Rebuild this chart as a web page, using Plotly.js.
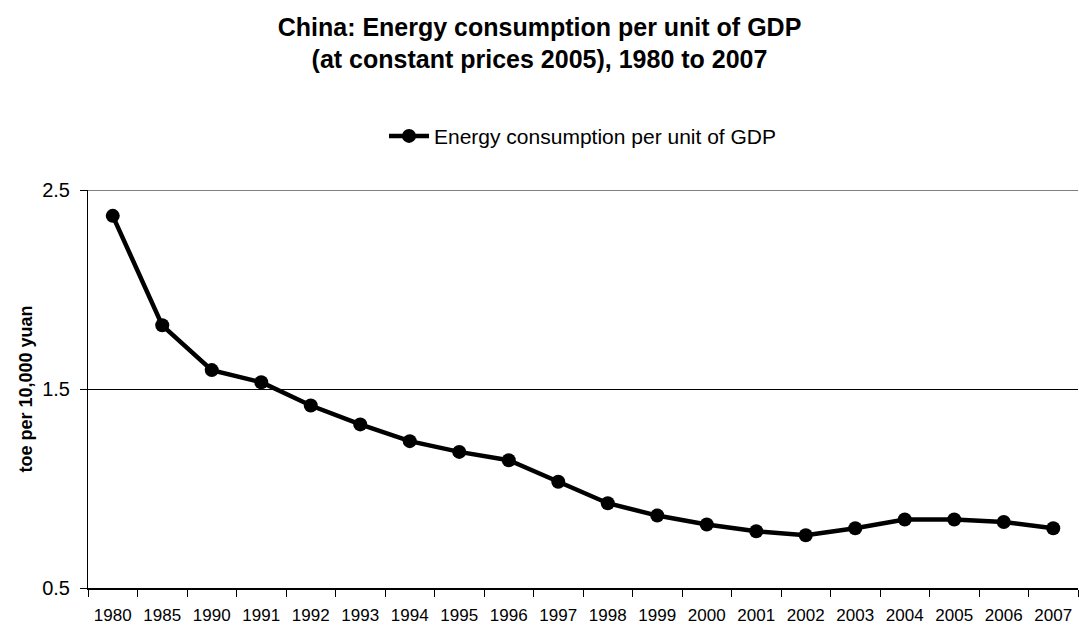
<!DOCTYPE html>
<html>
<head>
<meta charset="utf-8">
<script src="https://cdn.plot.ly/plotly-3.0.1.min.js"></script>
<style>
  html, body { margin: 0; padding: 0; background: #fff; }
  #chart { width: 1079px; height: 628px; }
</style>
</head>
<body>
<div id="chart"></div>
<script>
// Years shown on the category axis
const years = ['1980', '1985', '1990', '1991', '1992', '1993', '1994', '1995', '1996', '1997',
               '1998', '1999', '2000', '2001', '2002', '2003', '2004', '2005', '2006', '2007'];

// Energy consumption per unit of GDP, toe per 10,000 yuan (constant 2005 prices)
const energyPerGdp = [2.37, 1.82, 1.595, 1.534, 1.417, 1.322, 1.238, 1.184, 1.142, 1.034,
                      0.926, 0.864, 0.819, 0.785, 0.765, 0.80, 0.844, 0.844, 0.832, 0.80];

const yTicks = [0.5, 1.5, 2.5];

const font = 'Liberation Sans, Arial, sans-serif';

const trace = {
  type: 'scatter',
  mode: 'lines+markers',
  name: 'Energy consumption per unit of GDP',
  x: years,
  y: energyPerGdp,
  line: { color: '#000', width: 4.5 },
  marker: { color: '#000', size: 14 },
  cliponaxis: false
};

const layout = {
  width: 1079,
  height: 628,
  paper_bgcolor: '#fff',
  plot_bgcolor: '#fff',
  margin: { l: 88, r: 1, t: 190, b: 40 },
  font: { family: font, color: '#000' },
  title: {
    text: '<b>China: Energy consumption per unit of GDP<br>(at constant prices 2005), 1980 to 2007</b>',
    font: { family: font, size: 25, color: '#000' },
    x: 0.5,
    xanchor: 'center',
    xref: 'container',
    yref: 'container',
    y: 0.943,
    yanchor: 'middle'
  },
  showlegend: true,
  legend: {
    orientation: 'h',
    x: 0.5,
    xanchor: 'center',
    y: 1.135,
    yanchor: 'middle',
    font: { family: font, size: 21, color: '#000' },
    itemwidth: 40
  },
  // top grid line at the upper end of the value range
  shapes: [{
    type: 'line',
    xref: 'paper', x0: 0, x1: 1,
    yref: 'y', y0: yTicks[yTicks.length - 1], y1: yTicks[yTicks.length - 1],
    line: { color: '#000', width: 1 },
    layer: 'below'
  }],
  xaxis: {
    type: 'category',
    range: [-0.5, 19.5],
    tickson: 'boundaries',
    ticks: 'outside',
    ticklen: 7,
    tickcolor: '#000',
    showline: true,
    linecolor: '#000',
    linewidth: 2,
    showgrid: false,
    ticklabelstandoff: 11,
    tickfont: { family: font, size: 17, color: '#000' },
    fixedrange: true
  },
  yaxis: {
    range: [0.5, 2.5],
    tickvals: yTicks,
    ticktext: yTicks.map(v => v.toFixed(1)),
    ticks: 'outside',
    ticklen: 7,
    tickcolor: '#000',
    showline: true,
    linecolor: '#000',
    linewidth: 1,
    showgrid: true,
    gridcolor: '#000',
    gridwidth: 1,
    zeroline: false,
    ticklabelstandoff: 6,
    tickfont: { family: font, size: 20, color: '#000' },
    title: {
      text: '<b>toe per 10,000 yuan</b>',
      font: { family: font, size: 18, color: '#000' },
      standoff: 4
    },
    fixedrange: true
  }
};

Plotly.newPlot('chart', [trace], layout, { displayModeBar: false, staticPlot: true });
</script>
</body>
</html>
